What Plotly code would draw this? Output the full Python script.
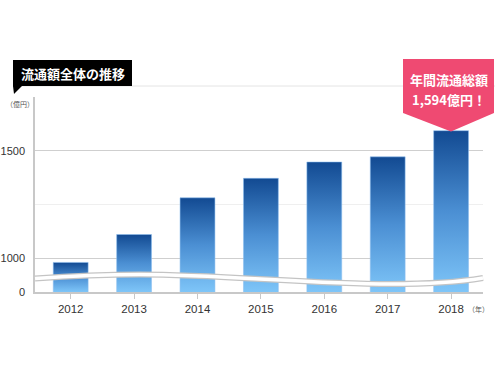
import plotly.graph_objects as go

# ---- data ----
years = ["2012", "2013", "2014", "2015", "2016", "2017", "2018"]
values = [980, 1110, 1281, 1372, 1448, 1472, 1594]   # 億円
ytick_vals = [842, 1000, 1500]        # 842 = visual "0" (broken axis)
ytick_text = ["0", "1000", "1500"]
title_text = "流通額全体の推移"
callout_lines = ["年間流通総額", "1,594億円！"]

# ---- layout geometry ----
W, H = 500, 375
ML, MR, MT, MB = 35, 17, 97, 83
PW, PH = W - ML - MR, H - MT - MB
YMIN, YMAX = 842, 1751
BAR_HALF = 0.275
X_RANGE = [-0.563, 6.503]

def px(x):  # page pixel -> paper fraction
    return (x - ML) / PW

def py(y):
    return (H - MB - y) / PH

def path(points, close=True):
    s = "M " + " L ".join(f"{px(x):.5f},{py(y):.5f}" for x, y in points)
    return s + (" Z" if close else "")

fig = go.Figure()

light, dark = "#7ec5f8", "#124a92"
for i, (yr, v) in enumerate(zip(years, values)):
    xs = [i - BAR_HALF, i + BAR_HALF, i + BAR_HALF, i - BAR_HALF, i - BAR_HALF]
    ys = [0, 0, v, v, 0]
    fig.add_trace(go.Scatter(
        x=xs, y=ys, mode="lines", fill="toself",
        line=dict(width=0.6, color="rgba(140,190,240,0.9)"),
        fillgradient=dict(type="vertical", start=YMIN, stop=v,
                          colorscale=[[0, light], [0.5, "#4b8fd3"], [1, dark]]),
        hoverinfo="skip", showlegend=False, name=yr,
    ))

shapes = []
# thin line under title
shapes.append(dict(type="line", xref="paper", yref="paper",
                   x0=px(13), x1=px(495), y0=py(86), y1=py(86),
                   line=dict(color="#e4e4e4", width=1), layer="below"))
# title box with pointer
shapes.append(dict(type="path", xref="paper", yref="paper",
                   path=path([(13, 60), (132, 60), (132, 86), (22, 86), (14, 94), (13, 86)]),
                   fillcolor="#000000", line=dict(width=0)))
# callout pentagon
shapes.append(dict(type="path", xref="paper", yref="paper",
                   path=path([(403, 59), (494, 59), (494, 113), (451, 131.5), (403, 113)]),
                   fillcolor="#ef4a72", line=dict(width=0)))

# wave (axis break marker)
def wave_path():
    seg = [
        ((70, 276), (105, 274.5), (140, 274.5)),
        ((220, 274.5), (310, 284), (390, 284)),
        ((440, 284), (465, 281), (483, 278)),
    ]
    s = f"M {px(35):.5f},{py(278.5):.5f}"
    for c1, c2, e in seg:
        s += " C " + " ".join(f"{px(a):.5f},{py(b):.5f}" for a, b in (c1, c2, e))
    return s

wp = wave_path()
shapes.append(dict(type="path", xref="paper", yref="paper", path=wp,
                   line=dict(color="#c4c4c4", width=6), layer="above"))
shapes.append(dict(type="path", xref="paper", yref="paper", path=wp,
                   line=dict(color="#ffffff", width=3.6), layer="above"))

annotations = [
    dict(text=f"<b>{title_text}</b>", x=px(72.5), y=py(73), xref="paper", yref="paper",
         showarrow=False, font=dict(size=13, color="white", family="Noto Sans CJK JP"),
         xanchor="center", yanchor="middle"),
    dict(text=f"<b>{callout_lines[0]}</b>", x=px(449), y=py(79.5), xref="paper", yref="paper",
         showarrow=False, font=dict(size=13, color="white", family="Noto Sans CJK JP"),
         xanchor="center", yanchor="middle"),
    dict(text=f"<b>{callout_lines[1]}</b>", x=px(449), y=py(100), xref="paper", yref="paper",
         showarrow=False, font=dict(size=13, color="white", family="Noto Sans CJK JP"),
         xanchor="center", yanchor="middle"),
    dict(text="（億円）", x=px(20), y=py(104), xref="paper", yref="paper",
         showarrow=False, font=dict(size=7, color="#555", family="Noto Sans CJK JP"),
         xanchor="center", yanchor="middle"),
    dict(text="（年）", x=px(478), y=py(309), xref="paper", yref="paper",
         showarrow=False, font=dict(size=7, color="#555", family="Noto Sans CJK JP"),
         xanchor="center", yanchor="middle"),
]

fig.update_layout(
    width=W, height=H,
    margin=dict(l=ML, r=MR, t=MT, b=MB, pad=0, autoexpand=False),
    paper_bgcolor="white", plot_bgcolor="white",
    shapes=shapes, annotations=annotations,
    font=dict(family="Arial, Liberation Sans, Noto Sans CJK JP", color="#333"),
    xaxis=dict(range=X_RANGE, tickvals=list(range(len(years))), ticktext=years,
               automargin=False,
               showgrid=False, zeroline=False, showline=True, linecolor="#c8c8c8",
               linewidth=1.5, ticks="outside", ticklen=5, tickcolor="#c8c8c8",
               tickfont=dict(size=11.5, color="#333"), fixedrange=True),
    yaxis=dict(range=[YMIN, YMAX], tickvals=ytick_vals, ticktext=ytick_text,
               automargin=False,
               showgrid=True, gridcolor="#cfcfcf", gridwidth=1, zeroline=False,
               showline=True, linecolor="#c8c8c8", linewidth=1.5, ticks="",
               ticklabelstandoff=6, tickfont=dict(size=11, color="#333"),
               minor=dict(tickvals=[1250], showgrid=True, gridcolor="#efefef", gridwidth=1),
               fixedrange=True),
)

fig.write_html(
    "out.html",
    config={"displayModeBar": False},
    post_script="document.body.style.margin='0';document.body.style.overflow='hidden';",
)
